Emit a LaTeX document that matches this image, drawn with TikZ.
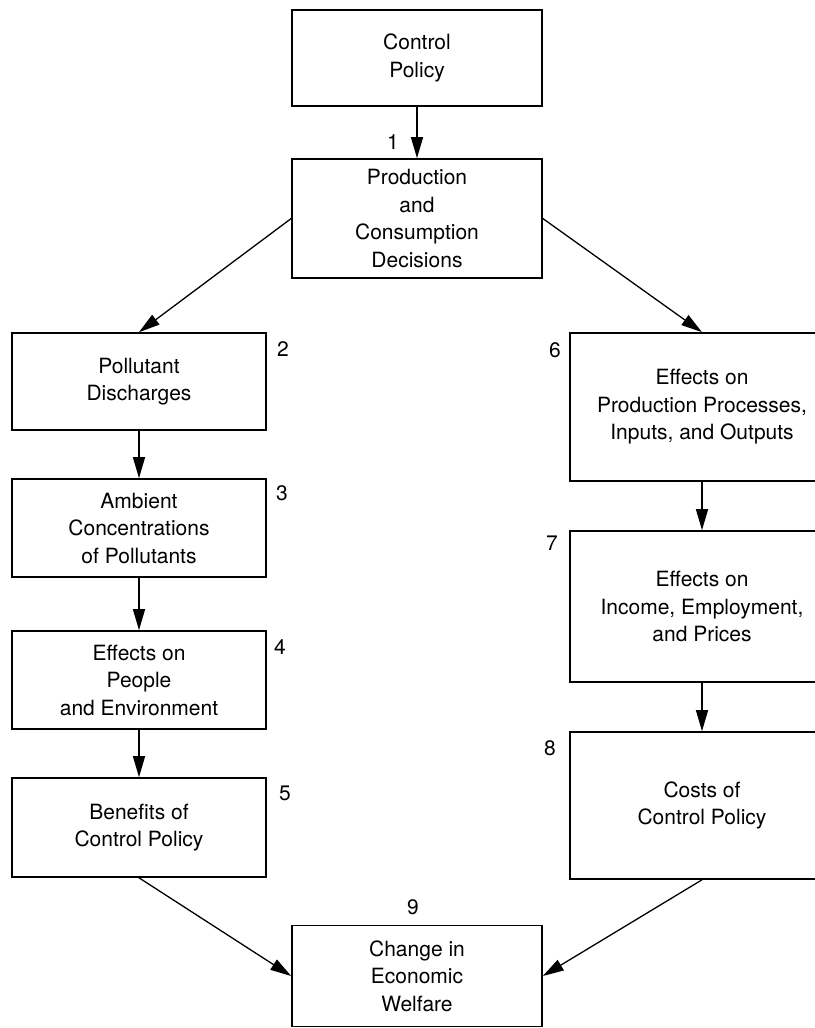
\documentclass[tikz,border=0pt]{standalone}
\usepackage{fontspec}
\setmainfont{TeX Gyre Heros}
\usetikzlibrary{arrows.meta}
\tikzset{%
  box/.style={draw, line width=1.6pt, align=center, inner sep=0pt, font=\fontsize{21}{27.5}\selectfont},%
  numlabel/.style={font=\fontsize{21}{25}\selectfont, inner sep=0pt},%
  flow/.style={line width=1.3pt, -{Triangle[length=21pt,width=12pt]}}%
}
\begin{document}
\begin{tikzpicture}[x=1pt, y=-1pt]%
\useasboundingbox (0, 0) rectangle (814, 1028);%
\node[box, minimum width=250pt, minimum height=96pt] (ctrl) at (417, 58) {Control\\Policy};%
\node[box, minimum width=250pt, minimum height=119pt] (prod) at (417, 218.5) {Production\\and\\Consumption\\Decisions};%
\node[box, minimum width=254pt, minimum height=97pt] (disch) at (139, 381.5) {Pollutant\\Discharges};%
\node[box, minimum width=254pt, minimum height=98pt] (ambient) at (139, 528) {Ambient\\Concentrations\\of Pollutants};%
\node[box, minimum width=254pt, minimum height=98pt] (people) at (139, 680) {Effects on\\People\\and Environment};%
\node[box, minimum width=254pt, minimum height=99pt] (benefits) at (139, 827.5) {Benefits of\\Control Policy};%
\node[box, minimum width=264pt, minimum height=148pt] (procs) at (702, 407) {Effects on\\Production Processes,\\Inputs, and Outputs};%
\node[box, minimum width=264pt, minimum height=151pt] (income) at (702, 606.5) {Effects on\\Income, Employment,\\and Prices};%
\node[box, minimum width=264pt, minimum height=147pt] (costs) at (702, 805.5) {Costs of\\Control Policy};%
\node[box, minimum width=250pt, minimum height=101pt] (welfare) at (417, 976) {Change in\\Economic\\Welfare};%
\node[numlabel] (n1) at (393, 142) {1};%
\node[numlabel] (n2) at (283, 349) {2};%
\node[numlabel] (n3) at (282, 493) {3};%
\node[numlabel] (n4) at (280, 647) {4};%
\node[numlabel] (n5) at (285, 793) {5};%
\node[numlabel] (n6) at (555, 350) {6};%
\node[numlabel] (n7) at (552, 543) {7};%
\node[numlabel] (n8) at (550, 748) {8};%
\node[numlabel] (n9) at (413, 907) {9};%
\draw[flow] (ctrl) -- (prod);%
\draw[flow] (prod.west) -- (disch.north);%
\draw[flow] (prod.east) -- (procs.north);%
\draw[flow] (disch) -- (ambient);%
\draw[flow] (ambient) -- (people);%
\draw[flow] (people) -- (benefits);%
\draw[flow] (procs) -- (income);%
\draw[flow] (income) -- (costs);%
\draw[flow] (benefits.south) -- (welfare.west);%
\draw[flow] (costs.south) -- (welfare.east);%
\end{tikzpicture}
\end{document}
